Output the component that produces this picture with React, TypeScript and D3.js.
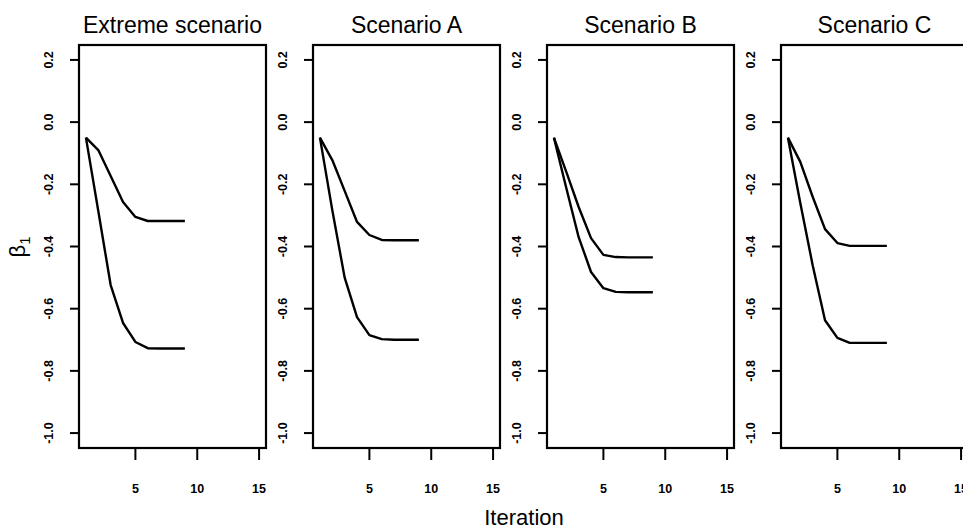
import React from "react";
import * as d3 from "d3";

const iterations = [1, 2, 3, 4, 5, 6, 7, 8, 9];
const panelTitles = ["Extreme scenario", "Scenario A", "Scenario B", "Scenario C"];
const extremeUpper = [-0.05, -0.09, -0.173, -0.257, -0.305, -0.318, -0.318, -0.318, -0.318];
const extremeLower = [-0.05, -0.286, -0.524, -0.646, -0.707, -0.727, -0.728, -0.728, -0.728];
const aUpper = [-0.05, -0.122, -0.221, -0.321, -0.363, -0.379, -0.38, -0.38, -0.38];
const aLower = [-0.05, -0.283, -0.5, -0.627, -0.685, -0.698, -0.7, -0.7, -0.7];
const bUpper = [-0.05, -0.16, -0.273, -0.373, -0.427, -0.434, -0.435, -0.435, -0.435];
const bLower = [-0.05, -0.212, -0.37, -0.482, -0.534, -0.546, -0.547, -0.547, -0.547];
const cUpper = [-0.05, -0.128, -0.24, -0.344, -0.389, -0.398, -0.398, -0.398, -0.398];
const cLower = [-0.05, -0.26, -0.46, -0.637, -0.694, -0.71, -0.71, -0.71, -0.71];
const seriesByPanel = [
  [extremeUpper, extremeLower],
  [aUpper, aLower],
  [bUpper, bLower],
  [cUpper, cLower],
];
const yTicks = [0.2, 0.0, -0.2, -0.4, -0.6, -0.8, -1.0];
const yTickLabels = ["0.2", "0.0", "-0.2", "-0.4", "-0.6", "-0.8", "-1.0"];
const xTicks = [5, 10, 15];
const xTickLabels = ["5", "10", "15"];
const xLim = [1, 15];
const yLim = [-1, 0.2];

const W = 963;
const H = 530;
const FONT = "'Liberation Sans', Arial, Helvetica, sans-serif";

export default function App() {
  const panelW = 187;
  const gap = 234;
  const left0 = 79;
  const top = 45;
  const bottom = 448;
  const xr = (xLim[1] - xLim[0]) * 0.04;
  const yr = (yLim[1] - yLim[0]) * 0.04;
  const y = d3.scaleLinear().domain([yLim[0] - yr, yLim[1] + yr]).range([bottom, top]);

  return (
    <svg width={W} height={H} style={{ position: "absolute", left: 0, top: 0, background: "#fff" }}>
      <rect x={0} y={0} width={W} height={H} fill="#fff" />
      {panelTitles.map((title, i) => {
        const left = left0 + i * gap;
        const x = d3.scaleLinear().domain([xLim[0] - xr, xLim[1] + xr]).range([left, left + panelW]);
        const line = d3
          .line<number>()
          .x((_, k) => x(iterations[k]))
          .y((d) => y(d));
        return (
          <g key={title}>
            <text x={left + panelW / 2} y={33} textAnchor="middle" fontFamily={FONT} fontSize={23} fill="#000">
              {title}
            </text>
            <rect x={left} y={top} width={panelW} height={bottom - top} fill="none" stroke="#000" strokeWidth={2.2} />
            {seriesByPanel[i].map((s, j) => (
              <path key={j} d={line(s) || ""} fill="none" stroke="#000" strokeWidth={2.4} strokeLinejoin="round" />
            ))}
            {yTicks.map((t, k) => (
              <g key={k}>
                <line x1={left - 9} x2={left} y1={y(t)} y2={y(t)} stroke="#000" strokeWidth={2} />
                <text
                  transform={`translate(${left - 26},${y(t)}) rotate(-90)`}
                  textAnchor="middle"
                  fontFamily={FONT}
                  fontWeight="bold"
                  fontSize={12.5}
                  fill="#000"
                >
                  {yTickLabels[k]}
                </text>
              </g>
            ))}
            {xTicks.map((t, k) => (
              <g key={k}>
                <line x1={x(t)} x2={x(t)} y1={bottom} y2={bottom + 12} stroke="#000" strokeWidth={2} />
                <text x={x(t)} y={493} textAnchor="middle" fontFamily={FONT} fontWeight="bold" fontSize={12.5} fill="#000">
                  {xTickLabels[k]}
                </text>
              </g>
            ))}
          </g>
        );
      })}
      <text transform={`translate(25,247) rotate(-90)`} textAnchor="middle" fontFamily={FONT} fontSize={22} fill="#000">
        β<tspan fontSize={15} dy={5}>1</tspan>
      </text>
      <text x={524} y={525} textAnchor="middle" fontFamily={FONT} fontSize={22} fill="#000">
        Iteration
      </text>
    </svg>
  );
}
